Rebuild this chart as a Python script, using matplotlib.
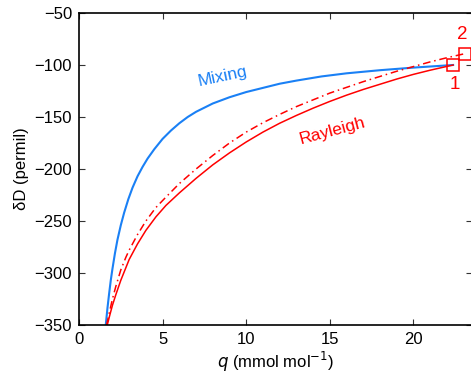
import matplotlib.pyplot as plt

plt.rcParams['font.family'] = ['Liberation Sans', 'DejaVu Sans']

# values
mix_q = [1.60, 1.70, 1.80, 1.90, 2.00, 2.15, 2.30, 2.50, 2.70, 2.95, 3.20, 3.50, 3.80,
         4.10, 4.50, 5.00, 5.50, 6.00, 6.50, 7.00, 7.50, 8.00, 9.00, 10.0, 11.0, 12.0,
         13.0, 14.5, 16.0, 18.0, 20.0, 22.37]
mix_d = [-350, -334, -320, -307, -296, -281, -268, -254, -242, -229, -218, -207, -198,
         -190, -181, -171, -163, -156, -150, -145, -141, -137, -131, -126, -122, -118,
         -115, -111, -108, -105, -102.5, -100]

ray_q = [1.69, 1.85, 2.0, 2.2, 2.5, 2.8, 3.0, 3.5, 4.0, 4.6, 5.2, 6.0, 7.0, 8.0, 9.0,
         10.0, 11.0, 12.0, 13.0, 14.0, 15.0, 16.0, 17.0, 18.0, 19.0, 20.0, 21.0, 22.37]
ray_d = [-350, -340, -331, -321, -307, -295, -287, -272, -259, -246, -235, -223, -209,
         -196, -184.5, -174, -164.5, -156, -148.5, -141.5, -135, -129, -123.5, -118.5,
         -113.5, -109, -105, -100]

ray2_q = [1.65, 1.8, 2.0, 2.2, 2.5, 2.8, 3.0, 3.5, 4.0, 4.6, 5.2, 6.0, 7.0, 8.0, 9.0,
          10.0, 11.0, 12.0, 13.0, 14.0, 15.0, 16.0, 17.0, 18.0, 19.0, 20.0, 21.0, 22.0, 23.1]
ray2_d = [-350, -339, -325, -313, -297, -285, -278, -263, -250, -237, -227, -214, -200,
          -187, -175, -164.5, -155.5, -147.5, -140, -133.5, -127, -121.5, -116, -111, -106,
          -101.5, -97, -93, -89]

pt_q = [22.37, 23.1]
pt_d = [-100, -89]
pt_labels = ['1', '2']

blue = '#1a80f5'
red = '#ff0000'

fig = plt.figure(figsize=(4.71, 3.75), dpi=100)
ax = fig.add_axes([79/471, 50/375, 393/471, 312/375])

ax.plot(mix_q, mix_d, color=blue, lw=1.5)
ax.plot(ray_q, ray_d, color=red, lw=1.1)
ax.plot(ray2_q, ray2_d, color=red, lw=1.1, ls=(0, (5, 2.5, 1, 2.5)))
ax.plot(pt_q, pt_d, 's', color=red, mfc='none', ms=8.5, mew=1.1)

ax.text(22.47, -119, pt_labels[0], color=red, fontsize=13.5, ha='center', va='center')
ax.text(22.9, -71, pt_labels[1], color=red, fontsize=13.5, ha='center', va='center')
ax.text(8.6, -111, 'Mixing', color=blue, fontsize=12.5, ha='center', va='center', rotation=12)
ax.text(15.15, -163, 'Rayleigh', color=red, fontsize=12.5, ha='center', va='center', rotation=15)

ax.set_xlim(0, 23.5)
ax.set_ylim(-350, -50)
ax.set_xticks([0, 5, 10, 15, 20])
ax.set_yticks(range(-350, -49, 50))
ax.tick_params(direction='in', top=True, right=True, length=4, width=0.8,
               labelsize=12, pad=5, color='#333333')
for s in ax.spines.values():
    s.set_linewidth(1.2)

ax.set_xlabel('$q$ (mmol mol$^{-1}$)', fontsize=12, labelpad=2)
ax.set_ylabel('δD (permil)', fontsize=12, labelpad=4)

fig.savefig('out.png', dpi=100)
